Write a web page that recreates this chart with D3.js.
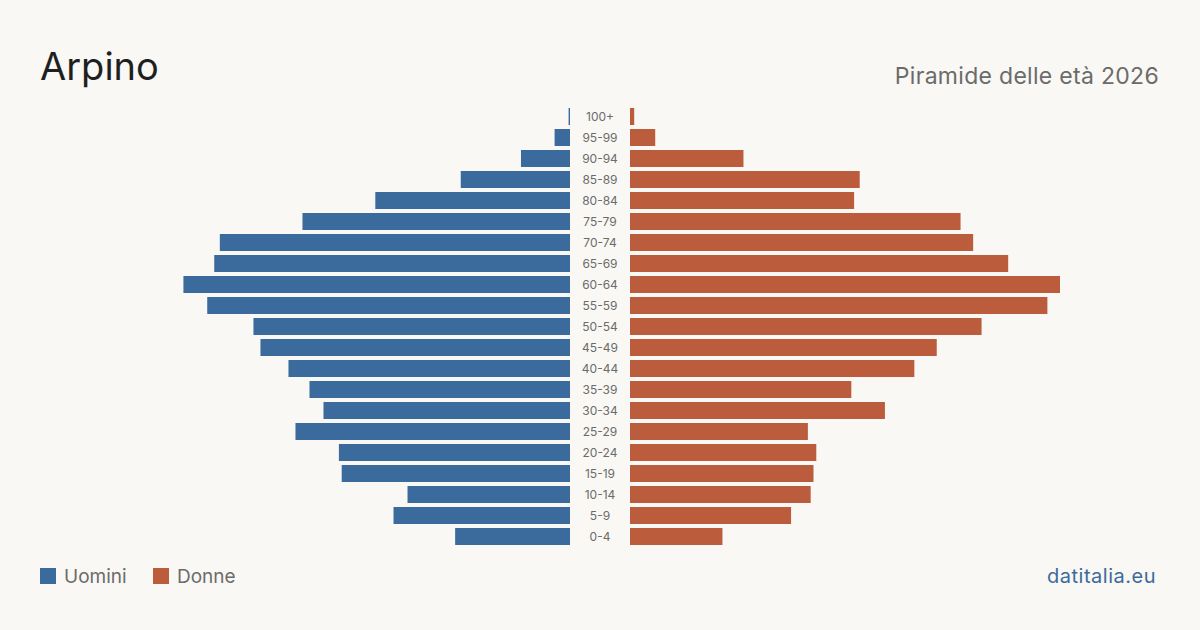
<!DOCTYPE html>
<html>
<head>
<meta charset="utf-8">
<script src="https://cdn.jsdelivr.net/npm/d3@7"></script>
<style>
  html, body { margin: 0; padding: 0; background: #f9f8f4; }
  svg { display: block; font-family: Inter, "Noto Sans", sans-serif; }
</style>
</head>
<body>
<div id="chart"></div>
<script>
// age groups, top to bottom
var age_groups = ['100+', '95-99', '90-94', '85-89', '80-84', '75-79', '70-74', '65-69',
    '60-64', '55-59', '50-54', '45-49', '40-44', '35-39', '30-34', '25-29',
    '20-24', '15-19', '10-14', '5-9', '0-4'];

// residents per age group
var uomini = [1, 11, 35, 78, 139, 191, 250, 254, 276, 259, 226, 221, 201, 186, 176, 196,
    165, 163, 116, 126, 82];
var donne = [3, 18, 81, 164, 160, 236, 245, 270, 307, 298, 251, 219, 203, 158, 182, 127,
    133, 131, 129, 115, 66];

var width = 1200;
var height = 630;
var center = 600;
var gap = 30;       // half of the space for the age labels
var half_width = 430;

var blue = '#3b6b9c';
var orange = '#bb5c3c';

var rows = age_groups.map(function(a, i) {
    return { age: a, m: uomini[i], f: donne[i] };
});

var svg = d3.select('#chart')
    .append('svg')
    .attr('width', width)
    .attr('height', height);

svg.append('rect')
    .attr('width', width)
    .attr('height', height)
    .attr('fill', '#f9f8f4');

// scales
var max_val = d3.max(rows, function(d) { return Math.max(d.m, d.f); });
var x_scale = d3.scaleLinear()
    .domain([0, max_val])
    .range([0, half_width]);

var y_scale = d3.scaleBand()
    .domain(age_groups)
    .range([106, 547])
    .paddingInner(4 / 21)
    .paddingOuter(2 / 21);

// men, to the left
svg.append('g')
    .selectAll('rect')
    .data(rows)
    .enter()
    .append('rect')
    .attr('x', function(d) { return center - gap - x_scale(d.m); })
    .attr('y', function(d) { return y_scale(d.age); })
    .attr('width', function(d) { return x_scale(d.m); })
    .attr('height', y_scale.bandwidth())
    .attr('fill', blue);

// women, to the right
svg.append('g')
    .selectAll('rect')
    .data(rows)
    .enter()
    .append('rect')
    .attr('x', center + gap)
    .attr('y', function(d) { return y_scale(d.age); })
    .attr('width', function(d) { return x_scale(d.f); })
    .attr('height', y_scale.bandwidth())
    .attr('fill', orange);

// age labels in the middle
svg.append('g')
    .selectAll('text')
    .data(rows)
    .enter()
    .append('text')
    .attr('x', center)
    .attr('y', function(d) { return y_scale(d.age) + y_scale.bandwidth() / 2; })
    .attr('dy', '0.35em')
    .attr('text-anchor', 'middle')
    .style('font-size', '12px')
    .style('fill', '#6b6b6b')
    .text(function(d) { return d.age; });

// titles
svg.append('text')
    .attr('x', 40)
    .attr('y', 80)
    .style('font-size', '38px')
    .style('fill', '#1f1f1f')
    .text('Arpino');

svg.append('text')
    .attr('x', 1159)
    .attr('y', 84)
    .attr('text-anchor', 'end')
    .style('font-size', '23px')
    .style('letter-spacing', '0.3px')
    .style('fill', '#6b6b6b')
    .text('Piramide delle età 2026');

// legend
var legend_items = [
    { label: 'Uomini', color: blue, x: 40 },
    { label: 'Donne', color: orange, x: 153 }
];

var legend = svg.append('g').attr('class', 'legend');

legend.selectAll('rect')
    .data(legend_items)
    .enter()
    .append('rect')
    .attr('x', function(d) { return d.x; })
    .attr('y', 568)
    .attr('width', 16)
    .attr('height', 16)
    .attr('fill', function(d) { return d.color; });

legend.selectAll('text')
    .data(legend_items)
    .enter()
    .append('text')
    .attr('x', function(d) { return d.x + 24; })
    .attr('y', 583)
    .style('font-size', '19px')
    .style('fill', '#6b6b6b')
    .text(function(d) { return d.label; });

svg.append('text')
    .attr('x', 1156)
    .attr('y', 583)
    .attr('text-anchor', 'end')
    .style('font-size', '20px')
    .style('letter-spacing', '0.5px')
    .style('fill', blue)
    .text('datitalia.eu');
</script>
</body>
</html>
